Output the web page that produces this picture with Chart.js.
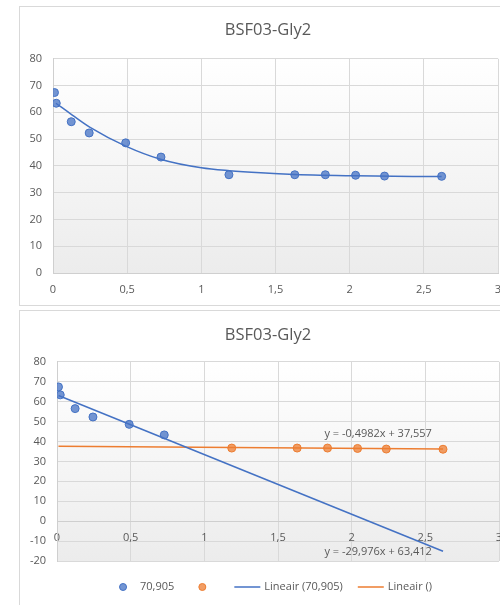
<!DOCTYPE html>
<html>
<head>
<meta charset="utf-8">
<script src="https://cdn.jsdelivr.net/npm/chart.js@4.4.0/dist/chart.umd.min.js"></script>
<style>
  html, body { margin: 0; padding: 0; background: #fff; width: 500px; height: 605px; overflow: hidden; }
  .box { position: absolute; left: 19px; width: 496px; border: 1px solid #d9d9d9; background: #fff; }
  #box1 { top: 6px; height: 298px; }
  #box2 { top: 310px; height: 295px; }
  canvas { display: block; }
</style>
</head>
<body>
<div class="box" id="box1"><canvas id="fitChart" width="496" height="298"></canvas></div>
<div class="box" id="box2"><canvas id="linChart" width="496" height="295"></canvas></div>
<script>
// measured points (x = time, y = value)
const xValues = [0.01, 0.022, 0.123, 0.244, 0.49, 0.728, 1.186, 1.63, 1.836, 2.04, 2.235, 2.62];
const yValues = [67.4, 63.4, 56.5, 52.3, 48.6, 43.3, 36.7, 36.7, 36.7, 36.5, 36.2, 36.1];

// smooth trend curve of the upper chart
const curveX = [0.02, 0.13, 0.25, 0.49, 0.73, 1.0, 1.19, 1.4, 1.63, 2.04, 2.62];
const curveY = [63.4, 59.0, 54.4, 47.4, 42.4, 39.3, 38.2, 37.4, 36.8, 36.3, 36.0];

// lower chart: first six points form the blue series, the rest the orange one
const splitAt = 6;
const seriesNames = ['70,905', ''];
const trendNames = ['Lineair (70,905)', 'Lineair ()'];
const blueTrendY = [63.1, -15.1];
const orangeTrendY = [37.55, 36.25];
const equations = ['y = -29,976x + 63,412', 'y = -0,4982x + 37,557'];

const chartTitle = 'BSF03-Gly2';
const xTicks = { min: 0, max: 3, step: 0.5 };
const yTicksTop = { min: 0, max: 80, step: 10 };
const yTicksBottom = { min: -20, max: 80, step: 10 };

const BLUE = '#4472C4';
const ORANGE = '#ED7D31';
const BLUE_FILL = 'rgba(68,114,196,0.75)';
const ORANGE_FILL = 'rgba(237,125,49,0.75)';
const TEXT = '#595959';
const FONT = '"Open Sans", "Liberation Sans", sans-serif';

Chart.defaults.font.family = FONT;
Chart.defaults.color = TEXT;

const toPoints = (xs, ys) => xs.map((x, i) => ({ x: x, y: ys[i] }));
const comma = v => String(v).replace('.', ',');

// soft grey gradient behind the plot area, like the Excel style
const plotBackground = {
    id: 'plotBackground',
    beforeDraw(chart) {
        const a = chart.chartArea;
        const ctx = chart.ctx;
        const g = ctx.createLinearGradient(0, a.top, 0, a.bottom);
        g.addColorStop(0, '#ffffff');
        g.addColorStop(1, '#ececec');
        ctx.save();
        ctx.fillStyle = g;
        ctx.fillRect(a.left, a.top, a.right - a.left, a.bottom - a.top);
        ctx.restore();
    }
};

function scales(yTicks, yWidth, rightGap, xPos) {
    return {
        x: {
            type: 'linear',
            min: xTicks.min, max: xTicks.max,
            position: xPos,
            grid: { color: '#d9d9d9', drawTicks: false },
            border: { color: '#cfcfcf' },
            ticks: { stepSize: xTicks.step, padding: 10, font: { size: 11 }, color: TEXT, callback: comma },
            afterFit(s) { if (typeof xPos === 'string') s.height = 32; }
        },
        y: {
            min: yTicks.min, max: yTicks.max,
            grid: { color: '#d9d9d9', drawTicks: false },
            border: { color: '#cfcfcf' },
            ticks: { stepSize: yTicks.step, padding: 11, font: { size: 11 }, color: TEXT },
            afterFit(s) { s.width = yWidth; }
        },
        // empty right axis, only keeps a gap so the title stays centred on the box
        gap: {
            type: 'linear',
            position: 'right',
            grid: { display: false },
            border: { display: false },
            ticks: { display: false },
            afterFit(s) { s.width = rightGap; }
        }
    };
}

function title(top, bottom) {
    return {
        display: true, text: chartTitle, color: TEXT,
        font: { size: 16.5, weight: 'normal' },
        padding: { top: top, bottom: bottom }
    };
}

// upper chart: points with smooth trend
new Chart(document.getElementById('fitChart'), {
    type: 'scatter',
    data: {
        datasets: [{
            label: seriesNames[0],
            data: toPoints(xValues, yValues),
            backgroundColor: BLUE_FILL,
            borderColor: BLUE,
            borderWidth: 1,
            pointRadius: 4
        }, {
            label: 'trend',
            data: toPoints(curveX, curveY),
            showLine: true,
            cubicInterpolationMode: 'monotone',
            borderColor: BLUE,
            borderWidth: 1.5,
            pointRadius: 0
        }]
    },
    options: {
        responsive: false,
        animation: false,
        scales: scales(yTicksTop, 33, 18, 'bottom'),
        plugins: {
            title: title(13, 19),
            legend: { display: false },
            tooltip: { enabled: false }
        }
    },
    plugins: [plotBackground]
});

// equation texts next to the linear trends
const equationLabels = {
    id: 'equationLabels',
    afterDatasetsDraw(chart) {
        const ctx = chart.ctx;
        const sx = chart.scales.x, sy = chart.scales.y;
        const spots = [[2.18, -15.5], [2.18, 44]];
        ctx.save();
        ctx.font = '11px ' + FONT;
        ctx.fillStyle = TEXT;
        ctx.textAlign = 'center';
        ctx.textBaseline = 'middle';
        equations.forEach((t, i) => {
            ctx.fillText(t, sx.getPixelForValue(spots[i][0]), sy.getPixelForValue(spots[i][1]));
        });
        ctx.restore();
    }
};

// Excel style legend row under the lower chart
const excelLegend = {
    id: 'excelLegend',
    afterDraw(chart) {
        const ctx = chart.ctx;
        const keyW = 26, gap = 4, spacing = 15;
        ctx.save();
        ctx.font = '11px ' + FONT;
        const items = chart.data.datasets.map(ds => {
            const tw = ds.label ? ctx.measureText(ds.label).width : 0;
            return { ds: ds, tw: tw, w: keyW + gap + tw };
        });
        const total = items.reduce((s, it) => s + it.w, 0) + spacing * (items.length - 1);
        let x = (chart.width - total) / 2 + 3;
        const y = chart.chartArea.bottom + 26;
        items.forEach(it => {
            const ds = it.ds;
            if (ds.showLine) {
                ctx.strokeStyle = ds.borderColor;
                ctx.lineWidth = 1.5;
                ctx.beginPath();
                ctx.moveTo(x, y);
                ctx.lineTo(x + keyW, y);
                ctx.stroke();
            } else {
                ctx.fillStyle = ds.backgroundColor;
                ctx.strokeStyle = ds.borderColor;
                ctx.lineWidth = 1;
                ctx.beginPath();
                ctx.arc(x + keyW / 2, y, 3.5, 0, Math.PI * 2);
                ctx.fill();
                ctx.stroke();
            }
            ctx.fillStyle = TEXT;
            ctx.textBaseline = 'middle';
            ctx.fillText(ds.label, x + keyW + gap, y);
            x += it.w + spacing;
        });
        ctx.restore();
    }
};

// lower chart: two series with linear trends
const endsX = [xValues[0], xValues[xValues.length - 1]];

new Chart(document.getElementById('linChart'), {
    type: 'scatter',
    data: {
        datasets: [{
            label: seriesNames[0],
            data: toPoints(xValues.slice(0, splitAt), yValues.slice(0, splitAt)),
            backgroundColor: BLUE_FILL,
            borderColor: BLUE,
            borderWidth: 1,
            pointRadius: 4
        }, {
            label: seriesNames[1],
            data: toPoints(xValues.slice(splitAt), yValues.slice(splitAt)),
            backgroundColor: ORANGE_FILL,
            borderColor: ORANGE,
            borderWidth: 1,
            pointRadius: 4
        }, {
            label: trendNames[0],
            data: toPoints(endsX, blueTrendY),
            showLine: true,
            borderColor: BLUE,
            borderWidth: 1.5,
            pointRadius: 0
        }, {
            label: trendNames[1],
            data: toPoints(endsX, orangeTrendY),
            showLine: true,
            borderColor: ORANGE,
            borderWidth: 1.5,
            pointRadius: 0
        }]
    },
    options: {
        responsive: false,
        animation: false,
        layout: { padding: { bottom: 45 } },
        scales: scales(yTicksBottom, 37, 17, { y: 0 }),
        plugins: {
            title: title(14, 17),
            legend: { display: false },
            tooltip: { enabled: false }
        }
    },
    plugins: [plotBackground, equationLabels, excelLegend]
});
</script>
</body>
</html>
